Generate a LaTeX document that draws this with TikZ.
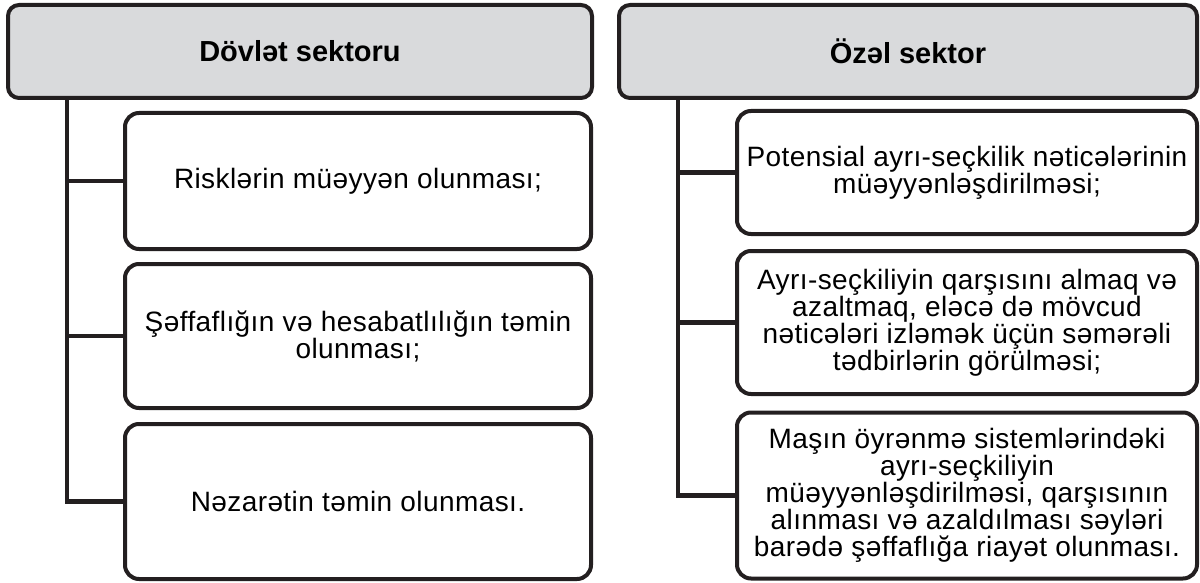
\documentclass[tikz,border=0pt]{standalone}
\usepackage{fontspec}
\setmainfont{Liberation Sans}
\newfontfamily\itemfont{Liberation Sans}[LetterSpace=1.5]
\usetikzlibrary{positioning}
\definecolor{panelgray}{HTML}{D9DADC}
\definecolor{inkblack}{HTML}{231F20}
\begin{document}
\begin{tikzpicture}[x=1pt,y=-1pt,
  headbox/.style={draw=inkblack,line width=4pt,fill=panelgray,rounded corners=11pt,minimum height=93pt,font=\bfseries\fontsize{29}{32}\selectfont},
  itembox/.style={draw=inkblack,line width=4pt,fill=white,rounded corners=14pt,align=center,font=\itemfont\fontsize{28}{27}\selectfont},
  link/.style={draw=inkblack,line width=4.5pt}]
\useasboundingbox (0,0) rectangle (1200,583);
\node[headbox,minimum width=584pt] (dh) at (300,51.5) {Dövlət sektoru};
\node[headbox,minimum width=578pt] (oh) at (908,51.5) {Özəl sektor};
\node[itembox,minimum width=466pt,minimum height=136pt] (d1) at (358,181) {Risklərin müəyyən olunması;};
\node[itembox,minimum width=466pt,minimum height=144pt] (d2) at (358,336) {Şəffaflığın və hesabatlılığın təmin\\olunması;};
\node[itembox,minimum width=466pt,minimum height=155pt] (d3) at (358,501.5) {Nəzarətin təmin olunması.};
\node[itembox,minimum width=460pt,minimum height=123pt] (o1) at (967,172.5) {Potensial ayrı-seçkilik nəticələrinin\\müəyyənləşdirilməsi;};
\node[itembox,minimum width=460pt,minimum height=143pt] (o2) at (967,322.5) {Ayrı-seçkiliyin qarşısını almaq və\\azaltmaq, eləcə də mövcud\\nəticələri izləmək üçün səmərəli\\tədbirlərin görülməsi;};
\node[itembox,minimum width=460pt,minimum height=166pt] (o3) at (967,495.5) {Maşın öyrənmə sistemlərindəki\\ayrı-seçkiliyin\\müəyyənləşdirilməsi, qarşısının\\alınması və azaldılması səyləri\\barədə şəffaflığa riayət olunması.};
\coordinate (dspine) at (67,98);
\coordinate (ospine) at (678,98);
\draw[link] (dspine) |- (d3.west);
\draw[link] (ospine) |- (o3.west);
\draw[link] (d1.west) -- (d1.west -| dspine);
\draw[link] (d2.west) -- (d2.west -| dspine);
\draw[link] (o1.west) -- (o1.west -| ospine);
\draw[link] (o2.west) -- (o2.west -| ospine);
\end{tikzpicture}
\end{document}
